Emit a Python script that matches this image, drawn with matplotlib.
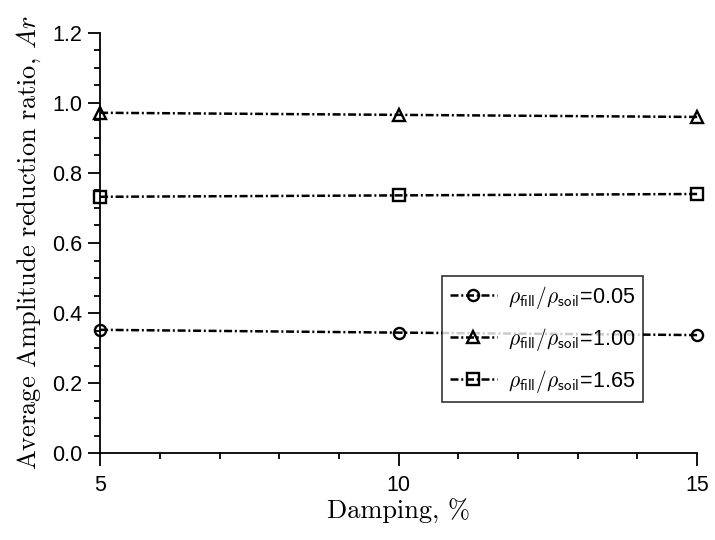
import matplotlib
matplotlib.use('Agg')
import matplotlib.pyplot as plt
from matplotlib.ticker import MultipleLocator, FormatStrFormatter

plt.rcParams['mathtext.fontset'] = 'cm'
plt.rcParams['font.family'] = ['Liberation Sans', 'DejaVu Sans']

# data
damping = [5, 10, 15]
ar_005 = [0.352, 0.344, 0.337]
ar_100 = [0.972, 0.966, 0.960]
ar_165 = [0.732, 0.736, 0.740]

labels = [r'$\rho_{\mathsf{fill}}/\rho_{\mathsf{soil}}$=0.05',
          r'$\rho_{\mathsf{fill}}/\rho_{\mathsf{soil}}$=1.00',
          r'$\rho_{\mathsf{fill}}/\rho_{\mathsf{soil}}$=1.65']
markers = ['o', '^', 's']

fig = plt.figure(figsize=(7.15, 5.4), dpi=100)
ax = fig.add_axes([0.14, 0.161, 0.835, 0.778])

for ys, m, lab in zip([ar_005, ar_100, ar_165], markers, labels):
    ax.plot(damping, ys, color='black', lw=1.8, linestyle=(0, (3.2, 1.1, 0.8, 1.1)),
            marker=m, ms=8, mew=1.7, fillstyle='none', label=lab, clip_on=False)

ax.set_xlim(5, 15)
ax.set_ylim(0, 1.2)
ax.xaxis.set_major_locator(MultipleLocator(5))
ax.xaxis.set_minor_locator(MultipleLocator(1))
ax.yaxis.set_major_locator(MultipleLocator(0.2))
ax.yaxis.set_minor_locator(MultipleLocator(0.05))
ax.yaxis.set_major_formatter(FormatStrFormatter('%.1f'))

for s in ['top', 'right']:
    ax.spines[s].set_visible(False)
for s in ['left', 'bottom']:
    ax.spines[s].set_linewidth(1.3)

ax.tick_params(axis='both', which='major', direction='out', length=9, width=1.3, labelsize=15.5)
ax.tick_params(axis='both', which='minor', direction='out', length=4, width=1.3)
ax.tick_params(axis='x', which='major', pad=7)
ax.tick_params(axis='y', which='major', pad=4)

ax.set_xlabel('Damping, %', family='cmr10', fontsize=19, labelpad=2)
ax.set_ylabel('Average Amplitude reduction ratio, $Ar$', family='cmr10', fontsize=19, labelpad=6)

leg = ax.legend(loc='lower left', bbox_to_anchor=(0.573, 0.121), borderaxespad=0,
                fontsize=15.5, frameon=True, fancybox=False, edgecolor='black',
                handlelength=2.2, handletextpad=0.5, borderpad=0.35, labelspacing=0.7)
leg.get_frame().set_linewidth(1.2)

fig.savefig('out.png', dpi=100)
